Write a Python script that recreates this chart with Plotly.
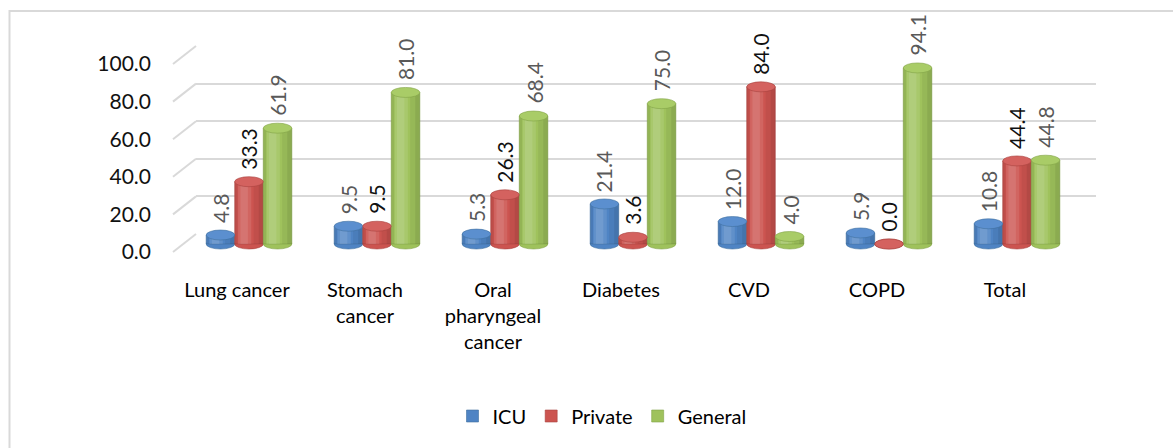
import plotly.graph_objects as go

# ---- data -------------------------------------------------------------
categories = ["Lung cancer", "Stomach<br>cancer", "Oral<br>pharyngeal<br>cancer",
              "Diabetes", "CVD", "COPD", "Total"]
series_names = ["ICU", "Private", "General"]
icu = [4.8, 9.5, 5.3, 21.4, 12.0, 5.9, 10.8]
private = [33.3, 9.5, 26.3, 3.6, 84.0, 0.0, 44.4]
general = [61.9, 81.0, 68.4, 75.0, 4.0, 94.1, 44.8]
y_ticks = [0, 20, 40, 60, 80, 100]
y_tick_labels = [f"{t:.1f}" for t in y_ticks]

# ---- styling ------------------------------------------------------------
W, H = 1173, 448
FONT = "Lato"
body_colors = ["#4f84c4", "#cc5450", "#9fc25c"]
top_colors = ["#5b8fcf", "#d4625f", "#a9cc67"]
edge_colors = ["#40709f", "#a9433f", "#82a247"]
label_colors = ["#595959", "#111111", "#595959"]

BAR_W = 0.223            # width of one cylinder in category units
BAR_PX_PER_UNIT = 1.871  # vertical scale of the bar axis
CAP_HALF = 5.0 / BAR_PX_PER_UNIT  # half height of the elliptical caps

# translucent stripes (start, width as fraction of the cylinder, colour)
# stacked over each body to suggest a rounded surface
shading = [
    (0.00, 0.10, "rgba(0,0,0,0.07)"),
    (0.12, 0.46, "rgba(255,255,255,0.10)"),
    (0.20, 0.26, "rgba(255,255,255,0.10)"),
    (0.66, 0.34, "rgba(0,0,0,0.05)"),
    (0.84, 0.16, "rgba(0,0,0,0.07)"),
]


def fx(p):
    return p / W


def fy(p):
    return 1 - p / H


values = [icu, private, general]
xs = list(range(len(categories)))

fig = go.Figure()
shapes = []
annotations = []

# anchor trace so the back-wall axes (gridlines + value labels) get drawn
fig.add_trace(go.Scatter(
    x=[0.5, 0.5], y=[y_ticks[0], y_ticks[-1]], xaxis="x", yaxis="y",
    mode="markers", marker=dict(opacity=0), showlegend=False, hoverinfo="skip",
))

for k, (name, vals) in enumerate(zip(series_names, values)):
    left = (k - 1.5) * BAR_W
    centre = left + BAR_W / 2
    # cylinder body
    fig.add_trace(go.Bar(
        x=xs, y=vals, name=name, xaxis="x2", yaxis="y2",
        offset=left, width=BAR_W,
        marker=dict(color=body_colors[k], line=dict(color=edge_colors[k], width=0.6)),
        hoverinfo="name+y",
    ))
    for start, frac, col in shading:
        fig.add_trace(go.Bar(
            x=xs, y=vals, xaxis="x2", yaxis="y2", showlegend=False, hoverinfo="skip",
            offset=left + start * BAR_W, width=frac * BAR_W,
            marker=dict(color=col, line=dict(width=0)),
        ))
    for i, v in zip(xs, vals):
        # rounded base
        shapes.append(dict(
            type="circle", xref="x2", yref="y2", layer="below",
            x0=i + left, x1=i + left + BAR_W, y0=-CAP_HALF, y1=CAP_HALF,
            fillcolor=body_colors[k], line=dict(color=edge_colors[k], width=0.6),
        ))
        # top face
        shapes.append(dict(
            type="circle", xref="x2", yref="y2", layer="above",
            x0=i + left, x1=i + left + BAR_W, y0=v - CAP_HALF, y1=v + CAP_HALF,
            fillcolor=top_colors[k], line=dict(color=edge_colors[k], width=0.6),
        ))
        annotations.append(dict(
            x=i + centre, y=v, xref="x2", yref="y2", text=f"{v:.1f}",
            showarrow=False, textangle=-90, yanchor="bottom", xanchor="center",
            yshift=10, font=dict(family=FONT, size=21, color=label_colors[k]),
        ))

# perspective connectors from the tick labels to the back wall gridlines
grid_top, grid_bottom = 46.0, 234.0
label_drop = 18
for t in y_ticks:
    gy = grid_bottom - (grid_bottom - grid_top) * t / 100.0
    shapes.append(dict(
        type="line", xref="paper", yref="paper", layer="below",
        x0=fx(173), y0=fy(gy + label_drop), x1=fx(196), y1=fy(gy),
        line=dict(color="#d9d9d9", width=2),
    ))

# chart frame (left and top edges)
shapes.append(dict(
    type="path", xref="paper", yref="paper", layer="below",
    path=f"M {fx(9.5)} {fy(448)} L {fx(9.5)} {fy(11)} L {fx(1173)} {fy(11)}",
    line=dict(color="#d9d9d9", width=2),
))

fig.update_layout(
    width=W, height=H,
    margin=dict(l=0, r=0, t=0, b=0, autoexpand=False),
    paper_bgcolor="white", plot_bgcolor="rgba(0,0,0,0)",
    barmode="overlay",
    font=dict(family=FONT, color="#000000"),
    shapes=shapes,
    annotations=annotations,
    # back wall carrying the gridlines and the value labels
    xaxis=dict(domain=[fx(196), fx(1096)], range=[0, 1], automargin=False,
               showticklabels=False, showgrid=False, zeroline=False, showline=False,
               ticks="", fixedrange=True),
    yaxis=dict(domain=[fy(grid_bottom), fy(grid_top)], range=[0, 100],
               anchor="x", tickmode="array", tickvals=y_ticks, ticktext=y_tick_labels,
               showgrid=True, gridcolor="#d9d9d9", gridwidth=2, automargin=False,
               zeroline=False, showline=False, ticks="",
               ticklabelshift=label_drop, ticklabelstandoff=44,
               tickfont=dict(family=FONT, size=21, color="#111111"),
               fixedrange=True),
    # front plane carrying the cylinders
    xaxis2=dict(domain=[fx(185), fx(1081)], range=[-0.5, 6.5], anchor="y2",
                tickmode="array", tickvals=xs, ticktext=categories, automargin=False,
                showgrid=False, zeroline=False, showline=False, ticks="",
                ticklabelshift=-12, ticklabelstandoff=23,
                tickfont=dict(family=FONT, size=20, color="#000000"),
                fixedrange=True),
    yaxis2=dict(domain=[fy(244 + 5 * BAR_PX_PER_UNIT), fy(244 - 105 * BAR_PX_PER_UNIT)],
                range=[-5, 105], anchor="x2", visible=False, showgrid=False,
                automargin=False, zeroline=False, fixedrange=True),
    legend=dict(orientation="h", x=fx(602), xanchor="center", y=fy(416), yanchor="middle",
                font=dict(family=FONT, size=20, color="#000000"),
                bgcolor="rgba(0,0,0,0)", traceorder="normal"),
    showlegend=True,
)

fig.write_html("out.html")
